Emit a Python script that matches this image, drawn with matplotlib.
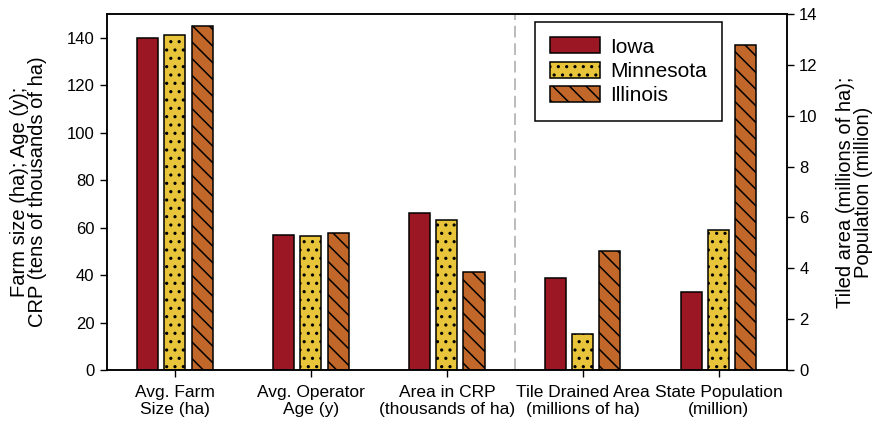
import matplotlib

matplotlib.use("Agg")
import matplotlib.pyplot as plt
import numpy as np

categories = [
    "Avg. Farm\nSize (ha)",
    "Avg. Operator\nAge (y)",
    "Area in CRP\n(thousands of ha)",
    "Tile Drained Area\n(millions of ha)",
    "State Population\n(million)",
]
states = ["Iowa", "Minnesota", "Illinois"]

# left axis: farm size, operator age, CRP area
iowa_left = [140.0, 56.9, 66.3]
minnesota_left = [141.3, 56.5, 63.0]
illinois_left = [145.0, 57.6, 41.2]

# right axis: tile drained area, population
iowa_right = [3.6, 3.08]
minnesota_right = [1.40, 5.5]
illinois_right = [4.68, 12.8]

colors = ["#9B1724", "#E8C43A", "#C1672A"]
hatches = ["", "..", "\\\\"]

plt.rcParams["font.family"] = ["Liberation Sans", "DejaVu Sans"]
plt.rcParams["hatch.linewidth"] = 1.1

fig = plt.figure(figsize=(8.77, 4.25), dpi=100)
ax = fig.add_axes([0.122, 0.1294, 0.775, 0.8376])
ax2 = ax.twinx()

left_series = [iowa_left, minnesota_left, illinois_left]
right_series = [iowa_right, minnesota_right, illinois_right]
x_left = np.arange(len(iowa_left))
x_right = np.arange(len(iowa_right)) + len(iowa_left)
width = 0.155
offsets = [-0.2, 0.0, 0.2]

handles = []
for name, vals, color, hatch, off in zip(states, left_series, colors, hatches, offsets):
    bars = ax.bar(x_left + off, vals, width, color=color, hatch=hatch,
                  edgecolor="black", linewidth=1.1, label=name)
    handles.append(bars)
for vals, color, hatch, off in zip(right_series, colors, hatches, offsets):
    ax2.bar(x_right + off, vals, width, color=color, hatch=hatch,
            edgecolor="black", linewidth=1.1)

ax.axvline(2.5, color="#BBBBBB", linestyle=(0, (6, 3)), linewidth=1.4)

ax.set_xlim(-0.5, 4.5)
ax.set_ylim(0, 150)
ax2.set_ylim(0, 14)
ax.set_yticks(np.arange(0, 141, 20))
ax2.set_yticks(np.arange(0, 15, 2))
ax.set_xticks(np.arange(len(categories)))
ax.set_xticklabels(categories, fontsize=12.5, linespacing=1.15)

for a in (ax, ax2):
    a.tick_params(axis="both", direction="out", length=5, width=1, labelsize=12, pad=4)
    for sp in a.spines.values():
        sp.set_linewidth(1.1)
ax.tick_params(axis="x", labelsize=12.5, pad=6)

ax.set_ylabel("Farm size (ha); Age (y);\nCRP (tens of thousands of ha)",
              fontsize=14.5, linespacing=0.95, labelpad=14)
ax2.set_ylabel("Tiled area (millions of ha);\nPopulation (million)",
               fontsize=14.5, linespacing=0.95, labelpad=13)

leg = ax2.legend(handles, states, loc="upper left", bbox_to_anchor=(0.6295, 0.978),
                 fontsize=15, frameon=True, fancybox=False, edgecolor="black",
                 framealpha=1, handlelength=2.4, handleheight=0.8,
                 borderpad=0.75, labelspacing=0.24, handletextpad=0.45, borderaxespad=0)
leg.get_frame().set_linewidth(1.1)

fig.savefig("out.png", dpi=100)
